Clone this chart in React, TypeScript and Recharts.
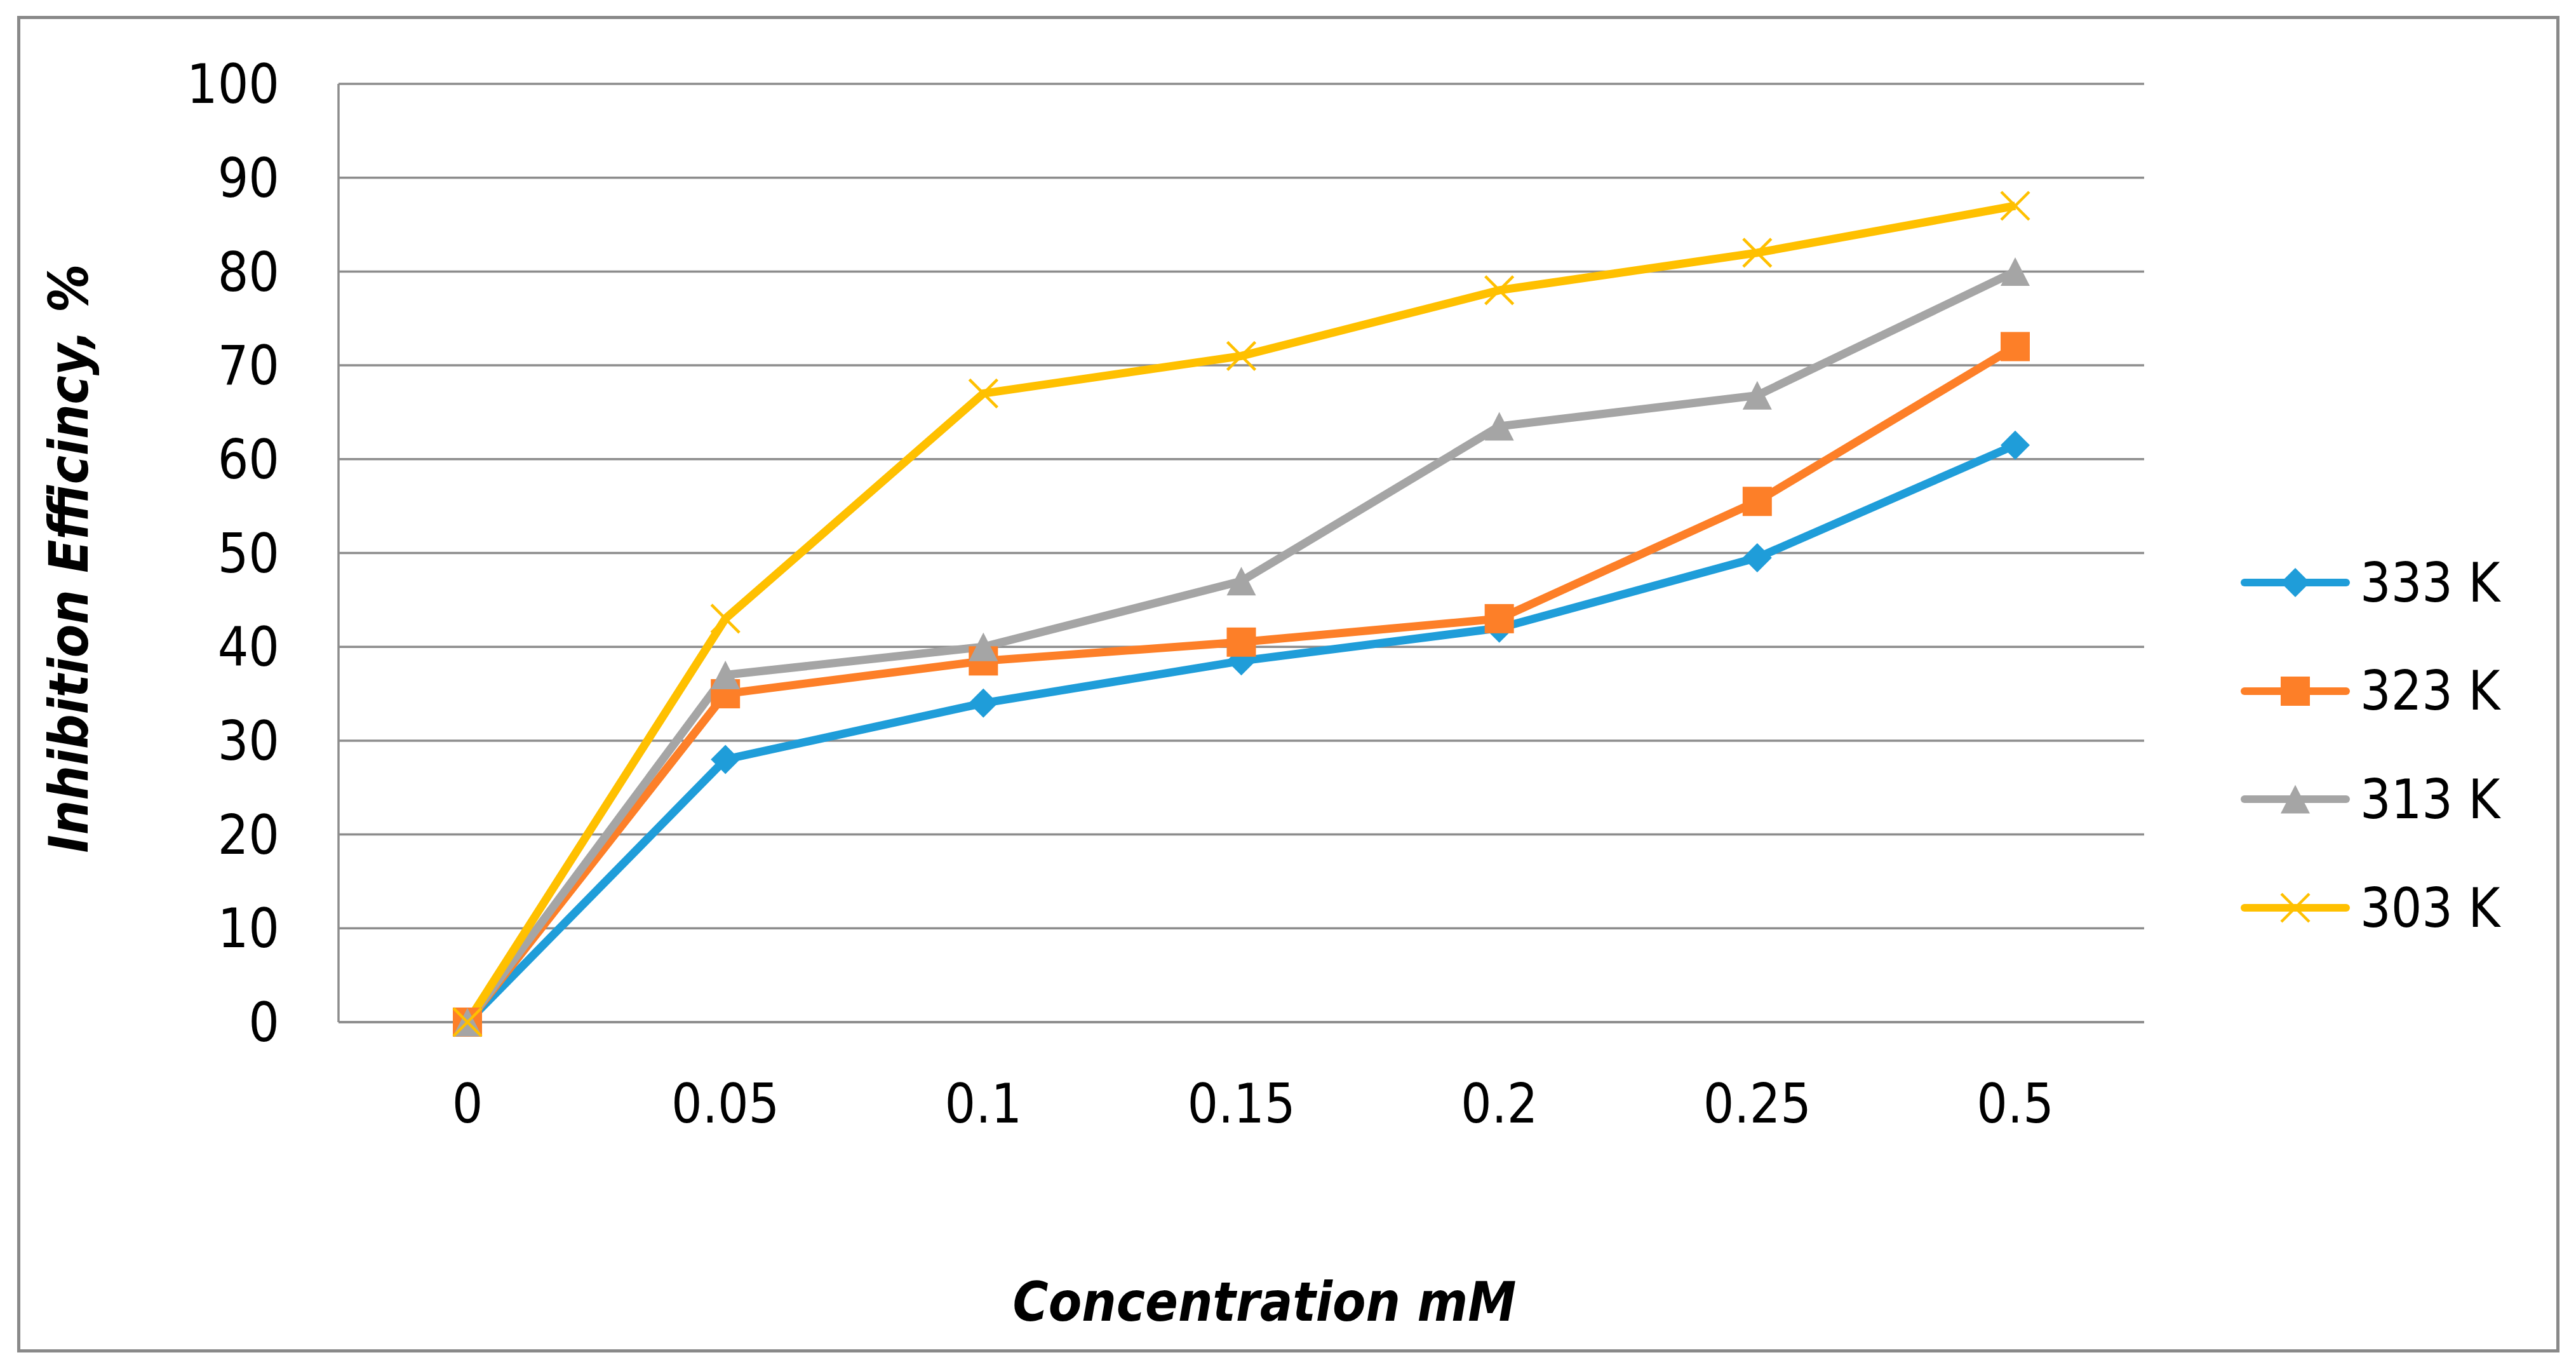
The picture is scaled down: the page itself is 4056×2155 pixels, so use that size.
import React from "react";
import { CartesianGrid, Legend, Line, LineChart, XAxis, YAxis } from "recharts";

const concentrations = ["0", "0.05", "0.1", "0.15", "0.2", "0.25", "0.5"];
const ie333 = [0, 28, 34, 38.5, 42, 49.5, 61.5];
const ie323 = [0, 35, 38.5, 40.5, 43, 55.5, 72];
const ie313 = [0, 37, 40, 47, 63.5, 66.8, 80];
const ie303 = [0, 43, 67, 71, 78, 82, 87];
const yTicks = [0, 10, 20, 30, 40, 50, 60, 70, 80, 90, 100];

const series = [
  { key: "k333", name: "333 K", values: ie333, color: "#1f9dd9", marker: "diamond" },
  { key: "k323", name: "323 K", values: ie323, color: "#fd7f28", marker: "square" },
  { key: "k313", name: "313 K", values: ie313, color: "#a5a5a5", marker: "triangle" },
  { key: "k303", name: "303 K", values: ie303, color: "#ffc000", marker: "x" },
];

const data = concentrations.map((c, i) => {
  const row: Record<string, string | number> = { c };
  series.forEach((s) => {
    row[s.key] = s.values[i];
  });
  return row;
});

const font = "'DejaVu Sans Condensed', 'Liberation Sans Narrow', 'DejaVu Sans', sans-serif";
const gridColor = "#8c8c8c";

function Marker({ shape, color, cx, cy }: { shape: string; color: string; cx: number; cy: number }) {
  const s = 23;
  if (shape === "diamond") {
    return <polygon points={`${cx},${cy - s} ${cx + s},${cy} ${cx},${cy + s} ${cx - s},${cy}`} fill={color} />;
  }
  if (shape === "square") {
    return <rect x={cx - s} y={cy - s} width={2 * s} height={2 * s} fill={color} />;
  }
  if (shape === "triangle") {
    return <polygon points={`${cx},${cy - 22.5} ${cx + s},${cy + 22.5} ${cx - s},${cy + 22.5}`} fill={color} />;
  }
  return (
    <g stroke={color} strokeWidth={4.5}>
      <line x1={cx - 22} y1={cy - 22} x2={cx + 22} y2={cy + 22} />
      <line x1={cx - 22} y1={cy + 22} x2={cx + 22} y2={cy - 22} />
    </g>
  );
}

// keep the legend in series order (333 K first), not sorted by name
const renderLegend = (props: any) => {
  const items = [...(props.payload || [])].sort(
    (a: any, b: any) => series.findIndex((s) => s.key === a.dataKey) - series.findIndex((s) => s.key === b.dataKey)
  );
  return (
    <div style={{ display: "flex", flexDirection: "column" }}>
      {items.map((p: any) => {
        const s = series.find((x) => x.key === p.dataKey) || series[0];
        return (
          <div key={s.key} style={{ height: 170.6, display: "flex", alignItems: "center" }}>
            <svg width={172} height={60} style={{ display: "block" }}>
              <line x1={6} y1={30} x2={166} y2={30} stroke={p.color} strokeWidth={12} strokeLinecap="round" />
              <Marker shape={s.marker} color={p.color} cx={86} cy={30} />
            </svg>
            <span style={{ marginLeft: 16, fontSize: 85, fontFamily: font, lineHeight: 1, color: "#000" }}>{p.value}</span>
          </div>
        );
      })}
    </div>
  );
};

const xTitle = () => (
  <text x={1991} y={2079} textAnchor="middle" fontSize={85} fontWeight="bold" fontStyle="italic" fontFamily={font} fill="#000">
    Concentration mM
  </text>
);

const yTitle = () => (
  <text
    x={108}
    y={879}
    dy="0.35em"
    transform="rotate(-90 108 879)"
    textAnchor="middle"
    fontSize={85}
    fontWeight="bold"
    fontStyle="italic"
    fontFamily={font}
    fill="#000"
  >
    Inhibition Efficincy, %
  </text>
);

export default function App() {
  return (
    <div style={{ position: "absolute", left: 0, top: 0, width: 4056, height: 2155, background: "#fff" }}>
      <div
        style={{
          position: "absolute",
          left: 27,
          top: 25,
          width: 4003,
          height: 2104,
          border: "5px solid #898989",
          boxSizing: "border-box",
        }}
      />
      <LineChart width={4056} height={2155} data={data} margin={{ top: 132, left: 93, right: 680, bottom: 100 }}>
        <CartesianGrid vertical={false} stroke={gridColor} strokeWidth={3.5} />
        <XAxis
          dataKey="c"
          height={446}
          padding={{ left: 203, right: 203 }}
          tickLine={false}
          tickSize={0}
          tickMargin={98}
          axisLine={{ stroke: gridColor, strokeWidth: 3.5 }}
          tick={{ fontSize: 85, fontFamily: font, fill: "#000" }}
          interval={0}
          label={xTitle}
        />
        <YAxis
          width={440}
          domain={[0, 100]}
          ticks={yTicks}
          interval={0}
          tickLine={false}
          tickSize={0}
          tickMargin={93}
          axisLine={{ stroke: gridColor, strokeWidth: 3.5 }}
          tick={{ fontSize: 85, fontFamily: font, fill: "#000" }}
          label={yTitle}
        />
        <Legend
          layout="vertical"
          align="center"
          verticalAlign="middle"
          content={renderLegend}
          wrapperStyle={{ left: 3528, top: 832, width: 500, height: "auto" }}
        />
        {series.map((s) => (
          <Line
            key={s.key}
            dataKey={s.key}
            name={s.name}
            stroke={s.color}
            strokeWidth={13}
            isAnimationActive={false}
            activeDot={false}
            dot={(p: any) => <Marker key={`${s.key}-${p.index}`} shape={s.marker} color={s.color} cx={p.cx} cy={p.cy} />}
          />
        ))}
      </LineChart>
    </div>
  );
}
